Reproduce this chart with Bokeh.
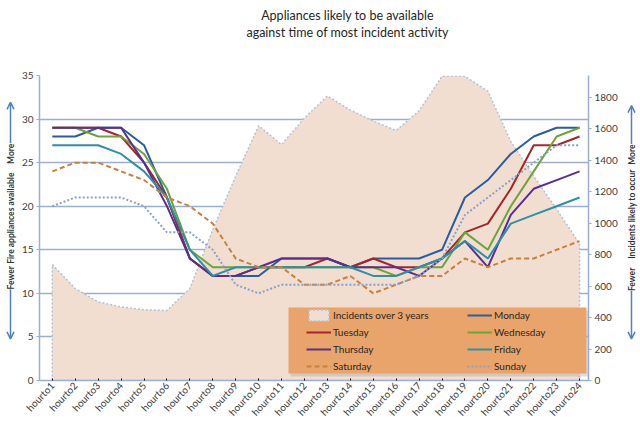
import math
from bokeh.plotting import figure
from bokeh.layouts import column, row
from bokeh.models import (Range1d, LinearAxis, FixedTicker, Arrow, OpenHead,
                          BoxAnnotation, Legend, LegendItem)
from bokeh.core.properties import value
from bokeh.embed import file_html
from bokeh.resources import INLINE

# data
hours = list(range(1, 25))
hour_labels = ["hourto" + str(h) for h in hours]

incidents = [737, 585, 500, 468, 450, 445, 585, 960, 1300, 1620, 1500, 1670,
             1810, 1720, 1650, 1590, 1715, 1935, 1935, 1840, 1520, 1300, 1090, 870]

monday = [28, 28, 29, 29, 27, 21, 14, 12, 12, 12, 14, 14, 14, 13, 14, 14, 14, 15, 21, 23, 26, 28, 29, 29]
tuesday = [29, 29, 29, 28, 25, 21, 14, 12, 12, 13, 13, 13, 14, 13, 14, 13, 13, 14, 17, 18, 22, 27, 27, 28]
wednesday = [29, 29, 28, 28, 26, 22, 15, 13, 13, 13, 13, 13, 13, 13, 13, 12, 13, 13, 17, 15, 20, 24, 28, 29]
thursday = [29, 29, 29, 29, 25, 20, 14, 12, 12, 13, 14, 14, 14, 13, 13, 13, 12, 14, 16, 13, 19, 22, 23, 24]
friday = [27, 27, 27, 26, 24, 21, 15, 12, 13, 13, 13, 13, 13, 13, 12, 12, 13, 14, 16, 14, 18, 19, 20, 21]
saturday = [24, 25, 25, 24, 23, 21, 20, 18, 14, 13, 13, 11, 11, 12, 10, 11, 12, 12, 14, 13, 14, 14, 15, 16]
sunday = [20, 21, 21, 21, 20, 17, 17, 15, 11, 10, 11, 11, 11, 11, 11, 11, 12, 14, 19, 21, 23, 25, 27, 27]

left_ticks = [0, 5, 10, 15, 20, 25, 30, 35]
right_ticks = [0, 200, 400, 600, 800, 1000, 1200, 1400, 1600, 1800]

title_lines = ["Appliances likely to be available", "against time of most incident activity"]

axis_col = "#9AB0CE"
arrow_col = "#4F81BD"
text_col = "#404040"
font = "Lato"


def blank(w, h, xr, yr):
    # plain figure used only to hold texts outside the chart frame
    f = figure(width=w, height=h, x_range=xr, y_range=yr, output_backend="svg",
               toolbar_location=None, x_axis_location=None, y_axis_location=None,
               min_border=0)
    f.outline_line_color = None
    f.grid.visible = False
    return f


# title strip, coordinates in pixels
top = blank(640, 50, Range1d(0, 640), Range1d(50, 0))
top.text(x=[347, 347], y=[15, 32], text=title_lines, text_font=value(font),
         text_font_size="12.5px", text_color="#262626", text_align="center",
         text_baseline="middle")

# main chart
p = figure(width=602, height=374, x_range=Range1d(0.44, 24.39), y_range=Range1d(0, 35),
           output_backend="svg", toolbar_location=None,
           min_border_left=17, min_border_right=28, min_border_top=25, min_border_bottom=44)
p.extra_y_ranges = {"inc": Range1d(0, 1940)}
p.outline_line_color = None

p.xaxis.ticker = FixedTicker(ticks=hours)
p.xaxis.major_label_overrides = {h: lab for h, lab in zip(hours, hour_labels)}
p.xaxis.major_label_orientation = math.radians(47)
p.xaxis.major_label_text_font = font
p.xaxis.major_label_text_font_size = "10px"
p.xaxis.major_label_text_color = text_col
p.xaxis.major_label_standoff = 3
p.xaxis.major_tick_out = 0
p.xaxis.minor_tick_line_color = None
p.xaxis.axis_line_color = axis_col
p.xaxis.axis_line_width = 1.5

p.yaxis.ticker = FixedTicker(ticks=left_ticks)
p.yaxis.major_label_text_font = font
p.yaxis.major_label_text_font_size = "10px"
p.yaxis.major_label_text_color = text_col
p.yaxis.major_tick_out = 3
p.yaxis.major_tick_in = 0
p.yaxis.major_label_standoff = 3
p.yaxis.minor_tick_line_color = None
p.yaxis.axis_line_color = axis_col
p.yaxis.major_tick_line_color = axis_col
p.yaxis.axis_line_width = 1.5

right = LinearAxis(y_range_name="inc", ticker=FixedTicker(ticks=right_ticks))
right.major_label_text_font = font
right.major_label_text_font_size = "10px"
right.major_label_text_color = text_col
right.major_tick_out = 3
right.major_tick_in = 0
right.major_label_standoff = 3
right.minor_tick_line_color = None
right.axis_line_color = axis_col
right.major_tick_line_color = axis_col
right.axis_line_width = 1.5
p.add_layout(right, "right")

p.xgrid.grid_line_color = None
p.ygrid.grid_line_color = axis_col
p.ygrid.grid_line_width = 1.5

# incidents area on the right axis
area = p.patch(hours + [hours[-1], hours[0]], incidents + [0, 0], y_range_name="inc",
               fill_color="#F2DDD1", line_color="#B3C3D8", line_dash="2 2", line_width=1.5)

# legend backing box with a little shadow
p.add_layout(BoxAnnotation(left=251, right=550, bottom=4, top=70, left_units="screen",
                           right_units="screen", bottom_units="screen", top_units="screen",
                           fill_color="#9E9E9E", fill_alpha=0.35, line_color=None))
p.add_layout(BoxAnnotation(left=249, right=547, bottom=7, top=73, left_units="screen",
                           right_units="screen", bottom_units="screen", top_units="screen",
                           fill_color="#E9A46C", fill_alpha=1, line_color=None))

mon = p.line(hours, monday, color="#2A5CA0", line_width=2)
tue = p.line(hours, tuesday, color="#A3262B", line_width=2)
wed = p.line(hours, wednesday, color="#6FA33A", line_width=2)
thu = p.line(hours, thursday, color="#5B2E8E", line_width=2)
fri = p.line(hours, friday, color="#2C90A8", line_width=2)
sat = p.line(hours, saturday, color="#C8813B", line_width=2, line_dash="5 3")
sun = p.line(hours, sunday, color="#86A2CB", line_width=2, line_dash="2 2")

legend = Legend(items=[LegendItem(label="Incidents over 3 years", renderers=[area]),
                       LegendItem(label="Monday", renderers=[mon]),
                       LegendItem(label="Tuesday", renderers=[tue]),
                       LegendItem(label="Wednesday", renderers=[wed]),
                       LegendItem(label="Thursday", renderers=[thu]),
                       LegendItem(label="Friday", renderers=[fri]),
                       LegendItem(label="Saturday", renderers=[sat]),
                       LegendItem(label="Sunday", renderers=[sun])],
                orientation="horizontal", ncols=2, location=(267, 7),
                background_fill_alpha=0, border_line_color=None,
                glyph_width=25, glyph_height=14, label_standoff=2, label_width=131,
                spacing=3, padding=0, margin=0,
                label_text_font=font, label_text_font_size="10px", label_text_color="#262626")
p.add_layout(legend)

# side strips with captions and arrows, coordinates in pixels
left_strip = blank(18, 374, Range1d(0, 18), Range1d(424, 50))
right_strip = blank(20, 374, Range1d(620, 640), Range1d(424, 50))

for strip, xx, mid_txt, ys, top_arrow, bottom_arrow in [
        (left_strip, 10, "Fire appliances available", [298, 225, 146], (133, 83), (312, 373)),
        (right_strip, 631, "Incidents likely to occur", [300, 220, 147], (134, 87), (314, 373))]:
    strip.text(x=[xx] * 3, y=ys, text=["Fewer", mid_txt, "More"], angle=math.pi / 2,
               text_font=value(font), text_font_size="8.5px", text_font_style="bold",
               text_color="#333333", text_align="center", text_baseline="middle")
    for y0, y1 in [top_arrow, bottom_arrow]:
        strip.add_layout(Arrow(end=OpenHead(size=7, line_color=arrow_col, line_width=1.5),
                               x_start=xx, y_start=y0, x_end=xx, y_end=y1,
                               line_color=arrow_col, line_width=1.5))

layout = column(top, row(left_strip, p, right_strip))

open("out.html", "w").write(file_html(layout, INLINE))
